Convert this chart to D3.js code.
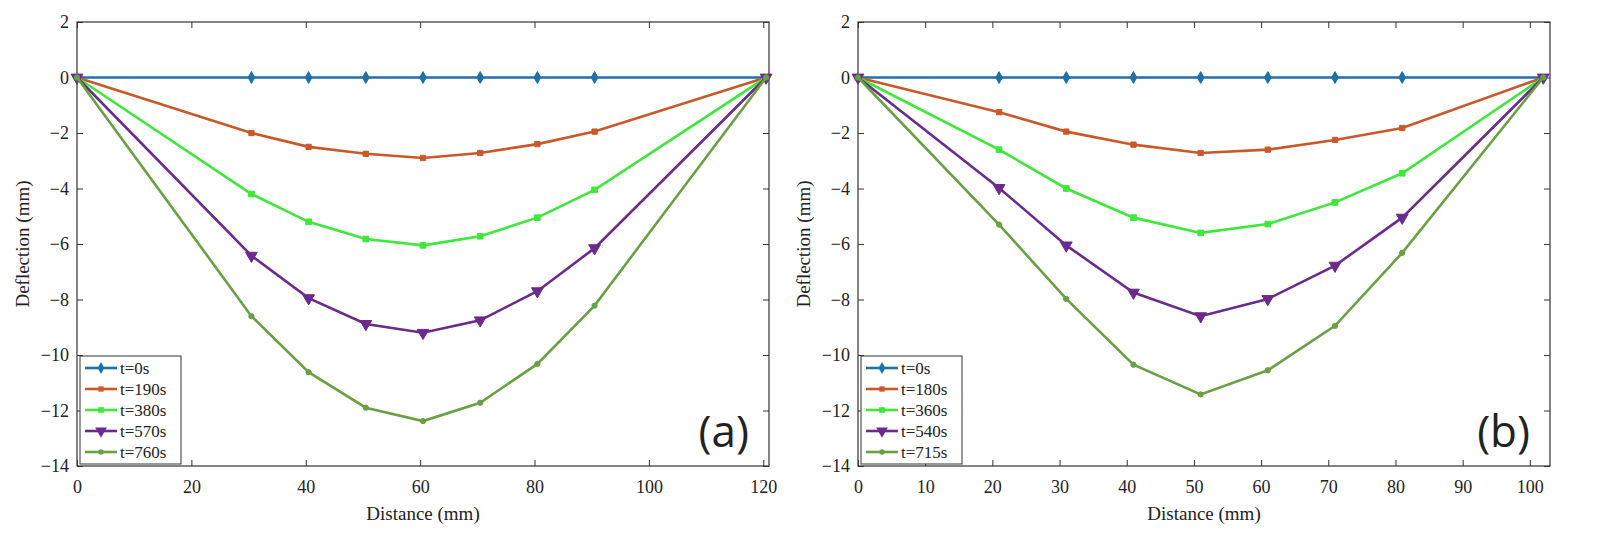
<!DOCTYPE html><html><head><meta charset="utf-8"><script src="https://cdn.jsdelivr.net/npm/d3@7"></script>
<style>body{margin:0;background:#fff}svg text{font-family:'Liberation Serif','Times New Roman',serif !important;fill:#222}svg text.lab{font-family:'Open Sans',sans-serif !important}</style></head><body><svg id="s" width="1600" height="539"></svg><script>
const seriesNames=["t=0s","t=190s","t=380s","t=570s","t=760s"];
const seriesNamesB=["t=0s","t=180s","t=360s","t=540s","t=715s"];
const xA=[0,30.5,40.5,50.5,60.5,70.5,80.5,90.5,120.5];
const xB=[0,21,31,41,51,61,71,81,102];
const valsA=[[0,0,0,0,0,0,0,0,0],[0,-2,-2.5,-2.75,-2.9,-2.72,-2.4,-1.95,0],[0,-4.2,-5.2,-5.82,-6.05,-5.72,-5.05,-4.05,0],[0,-6.42,-7.95,-8.88,-9.2,-8.75,-7.7,-6.15,0],[0,-8.6,-10.62,-11.9,-12.38,-11.72,-10.32,-8.22,0]];
const valsB=[[0,0,0,0,0,0,0,0,0],[0,-1.25,-1.95,-2.42,-2.72,-2.6,-2.25,-1.82,0],[0,-2.6,-4,-5.05,-5.6,-5.28,-4.5,-3.45,0],[0,-3.98,-6.05,-7.75,-8.6,-7.98,-6.78,-5.05,0],[0,-5.3,-7.98,-10.35,-11.42,-10.55,-8.95,-6.32,0]];
const ticksA=[0,20,40,60,80,100,120], ticksB=[0,10,20,30,40,50,60,70,80,90,100];
const yTicks=[2,0,-2,-4,-6,-8,-10,-12,-14];
const colors=["#1f6fa8","#c9592a","#3ee83a","#6b2a8c","#6aa044"];
const syms=[d3.symbolDiamond,d3.symbolSquare,d3.symbolSquare,d3.symbolTriangle,d3.symbolCircle];
const symSize=[40,28,32,60,22];
const svg=d3.select("#s");
function panel(x0,x1,xs,vals,xmax,ticks,names,label){
 const x=d3.scaleLinear().domain([0,xmax]).range([x0,x1]);
 const y=d3.scaleLinear().domain([-14,2]).range([466,22]);
 const g=svg.append("g");
 g.append("rect").attr("x",x0).attr("y",22).attr("width",x1-x0).attr("height",444).attr("fill","none").attr("stroke","#333").attr("stroke-width",1.2);
 const xa=g.append("g").attr("transform","translate(0,466)").call(d3.axisBottom(x).tickValues(ticks).tickSize(-6).tickPadding(14));
 const xt=g.append("g").attr("transform","translate(0,22)").call(d3.axisTop(x).tickValues(ticks).tickSize(-6).tickFormat(""));
 const ya=g.append("g").attr("transform",`translate(${x0},0)`).call(d3.axisLeft(y).tickValues(yTicks).tickSize(-6).tickPadding(8));
 const yr=g.append("g").attr("transform",`translate(${x1},0)`).call(d3.axisRight(y).tickValues(yTicks).tickSize(-6).tickFormat(""));
 [xa,xt,ya,yr].forEach(a=>{a.attr("font-family","Liberation Serif").attr("font-size",18);a.select(".domain").remove();a.selectAll("line").attr("stroke","#333");a.selectAll("text").attr("fill","#222");});
 g.append("text").attr("x",(x0+x1)/2).attr("y",520).attr("text-anchor","middle").attr("font-size",19).text("Distance (mm)");
 g.append("text").attr("transform",`translate(${x0-48},244) rotate(-90)`).attr("text-anchor","middle").attr("font-size",19).text("Deflection (mm)");
 vals.forEach((v,i)=>{
  const pts=xs.map((xx,j)=>[x(xx),y(v[j])]);
  g.append("path").attr("d",d3.line()(pts)).attr("fill","none").attr("stroke",colors[i]).attr("stroke-width",2.6);
  pts.forEach((p,j)=>{ if(i===0&&(j===0||j===pts.length-1))return;
   g.append("path").attr("d",d3.symbol(syms[i],symSize[i])()).attr("transform",`translate(${p[0]},${p[1]})${i===3?" rotate(180)":""}`).attr("fill",colors[i]).attr("stroke",colors[i]);});
 });
 const lx=x0+3,ly=356;
 g.append("rect").attr("x",lx).attr("y",ly).attr("width",101).attr("height",108).attr("fill","#fff").attr("stroke","#333");
 names.forEach((n,i)=>{const yy=ly+12+i*21;
  g.append("line").attr("x1",lx+5).attr("x2",lx+37).attr("y1",yy).attr("y2",yy).attr("stroke",colors[i]).attr("stroke-width",2.6);
  g.append("path").attr("d",d3.symbol(syms[i],symSize[i])()).attr("transform",`translate(${lx+21},${yy})${i===3?" rotate(180)":""}`).attr("fill",colors[i]);
  g.append("text").attr("x",lx+40).attr("y",yy+6).attr("font-size",17).text(n);});
 g.append("text").attr("class","lab").attr("x",x1-20).attr("y",447).attr("text-anchor","end").attr("font-size",44).text(label);
}
panel(77,769,xA,valsA,121,ticksA,seriesNames,"(a)");
panel(858,1550,xB,valsB,103,ticksB,seriesNamesB,"(b)");
</script></body></html>
